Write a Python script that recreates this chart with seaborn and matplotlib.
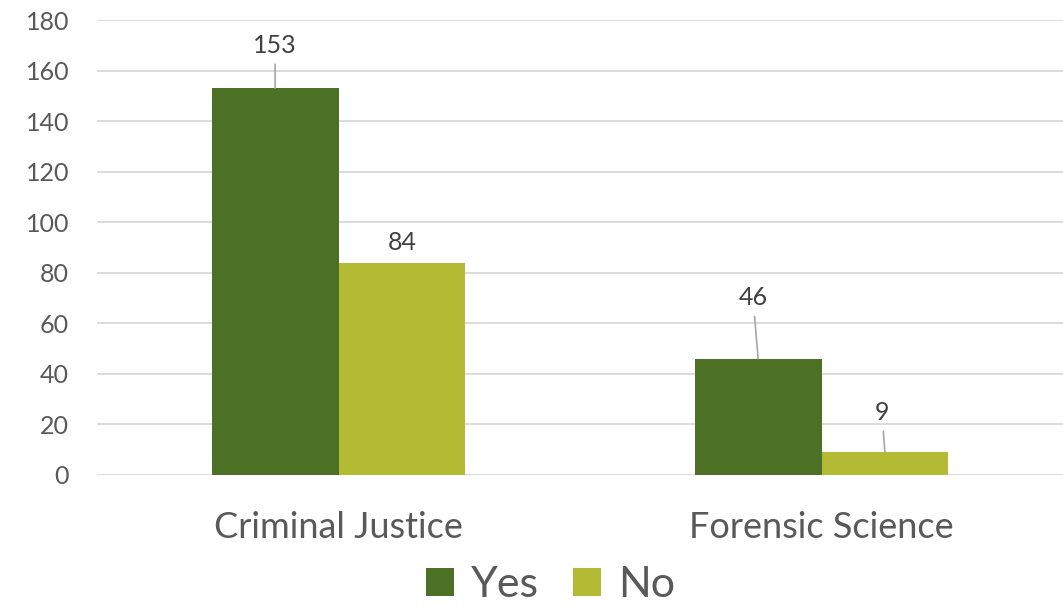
import pandas as pd
import matplotlib
matplotlib.use("Agg")
import matplotlib.pyplot as plt
import seaborn as sns
from matplotlib.patches import Patch

# chart data
programs = ["Criminal Justice", "Forensic Science"]
answers = ["Yes", "No"]
yes_counts = [153, 46]
no_counts = [84, 9]

# where each data label sits relative to its bar top (pixels), in plotting order
label_offsets = [(0, 43), (-5, 61), (0, 20), (-3, 40)]

custom_colors = ["#4C7124", "#B3BA33"]
text_gray = "#595959"

df = pd.DataFrame({
    "Program": programs * 2,
    "Answer": ["Yes"] * len(programs) + ["No"] * len(programs),
    "Count": yes_counts + no_counts,
})

sns.set_theme(style="white")
plt.rcParams["font.family"] = ["Lato", "DejaVu Sans"]

fig = plt.figure(figsize=(10.63, 6.06), dpi=100)
ax = fig.add_axes([97 / 1063, 1 - 475 / 606, 1 - 97 / 1063, 455 / 606])

sns.barplot(data=df, x="Program", y="Count", hue="Answer", hue_order=answers,
            palette=custom_colors, width=0.525, gap=0, saturation=1,
            edgecolor="none", ax=ax, legend=False)

ax.set_xlim(-0.5, 1.5)
ax.set_ylim(0, 180)
ax.set_yticks(range(0, 181, 20))
ax.yaxis.grid(True, color="#d9d9d9", linewidth=1.3)
ax.set_axisbelow(True)
for s in ax.spines.values():
    s.set_visible(False)
ax.tick_params(axis="y", length=0, pad=20, labelsize=18, labelcolor=text_gray)
ax.tick_params(axis="x", length=0, pad=26, labelsize=26, labelcolor=text_gray)
ax.set_xlabel("")
ax.set_ylabel("")

# data labels with leader lines
i = 0
for cont in ax.containers:
    for bar in cont:
        h = bar.get_height()
        xc = bar.get_x() + bar.get_width() / 2
        dx, dy = label_offsets[i]
        arrow = None
        if dy > 25:
            arrow = dict(arrowstyle="-", color="#a6a6a6", lw=1.2, shrinkA=3, shrinkB=0)
        ax.annotate(f"{int(h)}", xy=(xc, h), xytext=(dx, dy), textcoords="offset pixels",
                    ha="center", va="center", fontsize=18, color="#404040",
                    arrowprops=arrow)
        i += 1

handles = [Patch(facecolor=c, edgecolor="none") for c in custom_colors]
fig.legend(handles, answers, loc="center", bbox_to_anchor=(0.518, 1 - 585 / 606),
           ncol=2, frameon=False, fontsize=31, handlelength=0.65, handleheight=0.65,
           handletextpad=0.4, columnspacing=0.8, labelcolor=text_gray)

fig.savefig("out.png", dpi=100)
